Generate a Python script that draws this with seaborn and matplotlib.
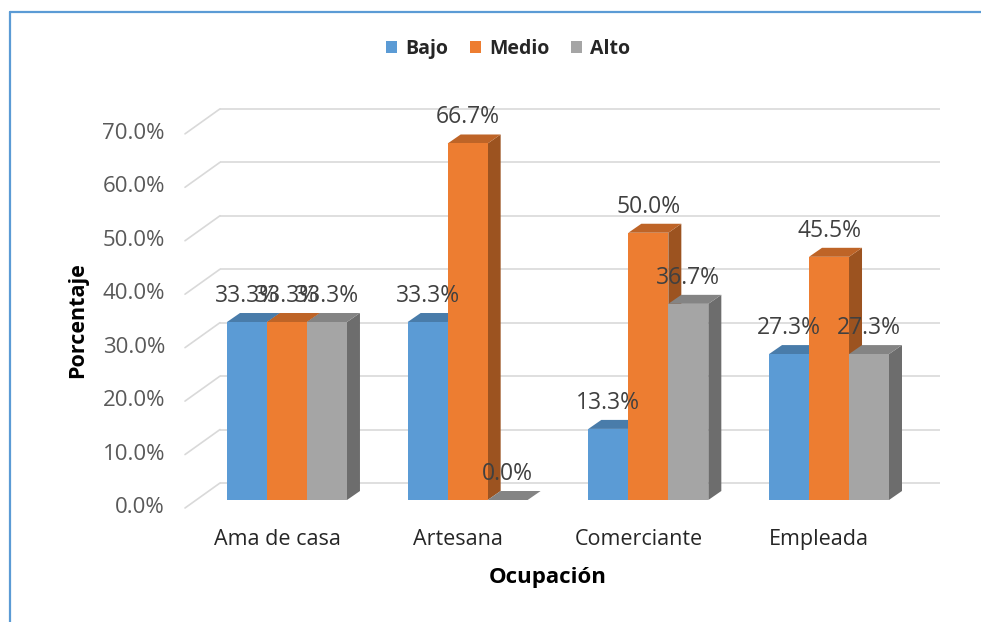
import numpy as np
import pandas as pd
import matplotlib
matplotlib.use("Agg")
import matplotlib.pyplot as plt
import matplotlib.transforms as mtrans
from matplotlib.patches import Polygon, Patch
from matplotlib.lines import Line2D
import seaborn as sns

# ---------------- data ----------------
categories = ["Ama de casa", "Artesana", "Comerciante", "Empleada"]
levels = ["Bajo", "Medio", "Alto"]
bajo = [33.3, 33.3, 13.3, 27.3]
medio = [33.3, 66.7, 50.0, 45.5]
alto = [33.3, 0.0, 36.7, 27.3]
y_ticks = [0, 10, 20, 30, 40, 50, 60, 70]
x_title = "Ocupación"
y_title = "Porcentaje"

colors = ["#5B9BD5", "#ED7D31", "#A5A5A5"]

df = pd.DataFrame({
    "Ocupación": categories * 3,
    "Nivel": [levels[0]] * 4 + [levels[1]] * 4 + [levels[2]] * 4,
    "Porcentaje": bajo + medio + alto,
})

sns.set_theme(style="white")
plt.rcParams["font.family"] = ["Open Sans", "DejaVu Sans"]

W, H = 981, 622
fig = plt.figure(figsize=(W / 100, H / 100), dpi=100)

# axes (front plane of bars)
px_unit_x = 180.7
px_unit_y = 5.345
left_px, right_px = 287 - 0.75 * px_unit_x, 829 + 0.75 * px_unit_x
bottom_px, top_px = 500, 500 - 75 * px_unit_y
ax = fig.add_axes([left_px / W, 1 - bottom_px / H,
                   (right_px - left_px) / W, (bottom_px - top_px) / H])

sns.barplot(data=df, x="Ocupación", y="Porcentaje", hue="Nivel",
            hue_order=levels, order=categories, palette=colors,
            width=0.664, saturation=1, legend=False, ax=ax,
            edgecolor="none", linewidth=0, zorder=5)

ax.set_xlim(-0.75, 3.75)
ax.set_ylim(0, 75)
for s in ax.spines.values():
    s.set_visible(False)
ax.set_facecolor("white")
ax.set_yticks([])
ax.set_xlabel("")
ax.set_ylabel("")

# ---------------- 3D look ----------------
dx = 13 / px_unit_x
dy = 9 / px_unit_y
grid_x0 = (220 - 287) / px_unit_x
grid_x1 = (940 - 287) / px_unit_x
diag_x0 = (185 - 287) / px_unit_x
back_dy = 17 / px_unit_y
front_dy = 8 / px_unit_y

for v in y_ticks:
    ax.plot([grid_x0, grid_x1], [v + back_dy, v + back_dy], color="#D9D9D9",
            lw=1.2, zorder=1, clip_on=False, solid_capstyle="butt")
    ax.plot([diag_x0, grid_x0], [v - front_dy, v + back_dy], color="#D9D9D9",
            lw=1.2, zorder=1, clip_on=False)
    ax.text((165 - 287) / px_unit_x, v - 1.4, f"{v:.1f}%", ha="right",
            va="center", fontsize=16, color="#595959", clip_on=False)


def shade(c, f):
    rgb = np.array(matplotlib.colors.to_rgb(c))
    return tuple(rgb * f)


bars = list(ax.patches)
for p in bars:
    x0 = p.get_x()
    w = p.get_width()
    h = p.get_height()
    x1 = x0 + w
    fc = p.get_facecolor()
    top = Polygon([(x0, h), (x0 + dx, h + dy), (x1 + dx, h + dy), (x1, h)],
                  closed=True, facecolor=shade(fc, 0.80), edgecolor="none",
                  zorder=4, clip_on=False)
    side = Polygon([(x1, 0), (x1 + dx, dy), (x1 + dx, h + dy), (x1, h)],
                   closed=True, facecolor=shade(fc, 0.66), edgecolor="none",
                   zorder=3, clip_on=False)
    ax.add_patch(side)
    ax.add_patch(top)
    ax.text(x0 + w / 2, h + 26 / px_unit_y, f"{h:.1f}%", ha="center",
            va="center", fontsize=16.5, color="#404040", zorder=10,
            clip_on=False)

# category tick labels
ax.set_xticks(range(len(categories)))
ax.set_xticklabels(categories, fontsize=15.5, color="#262626")
ax.tick_params(axis="x", length=0, pad=21)
off = mtrans.ScaledTranslation(-10 / 100, 0, fig.dpi_scale_trans)
for lab in ax.get_xticklabels():
    lab.set_transform(lab.get_transform() + off)

# axis titles
fig.text(548 / W, 1 - 578 / H, x_title, ha="center", va="center",
         fontsize=16, fontweight="bold", color="black")
fig.text(78 / W, 1 - 320 / H, y_title, ha="center", va="center",
         fontsize=15.5, fontweight="bold", rotation=90, color="black")

# legend
handles = [Patch(facecolor=c, edgecolor="none") for c in colors]
fig.legend(handles, levels, loc="center", bbox_to_anchor=(508 / W, 1 - 49 / H),
           ncol=3, frameon=False, handlelength=0.6, handleheight=0.6,
           handletextpad=0.4, columnspacing=1.1,
           prop={"weight": "bold", "size": 14})

# blue frame
fig.add_artist(Line2D([10 / W, 10 / W], [0, 1 - 12 / H], color="#5B9BD5",
                      lw=1.6, transform=fig.transFigure))
fig.add_artist(Line2D([10 / W, 1], [1 - 12 / H, 1 - 12 / H], color="#5B9BD5",
                      lw=1.6, transform=fig.transFigure))

fig.savefig("out.png", dpi=100, facecolor="white")
